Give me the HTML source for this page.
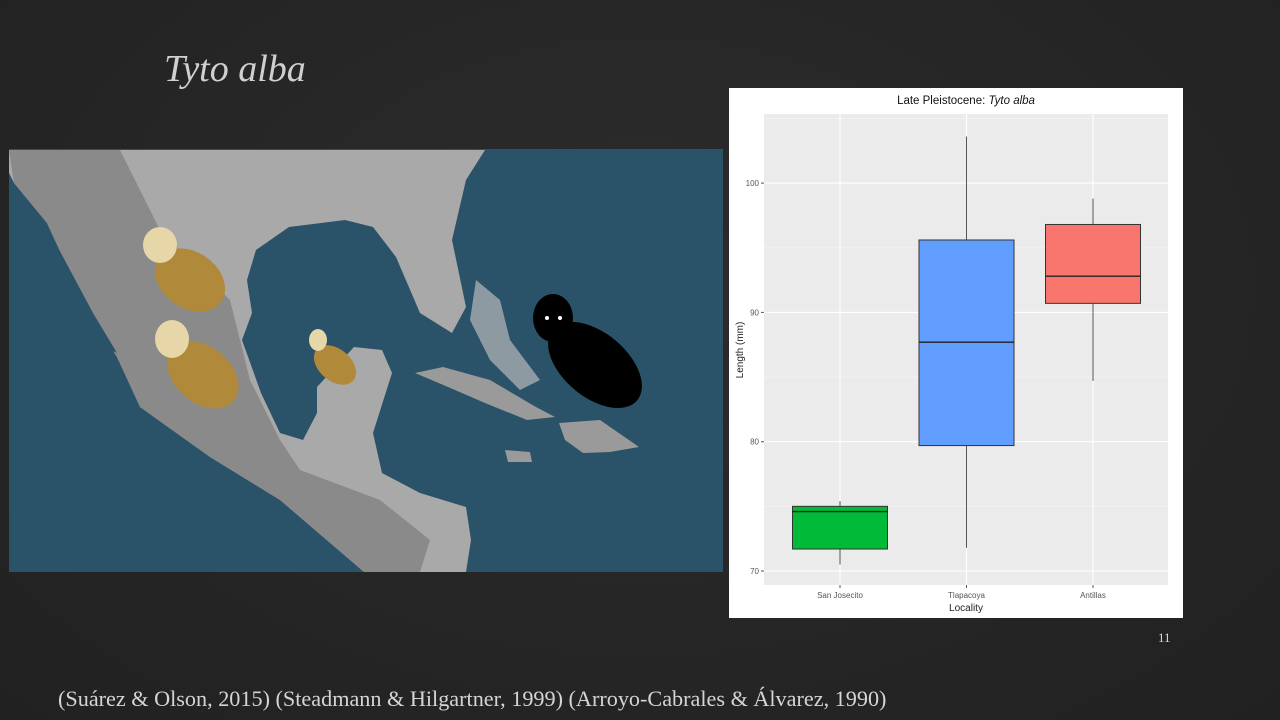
<!DOCTYPE html>
<html><head><meta charset="utf-8"><style>
html,body{margin:0;padding:0;width:1280px;height:720px;overflow:hidden;background:#272727;font-family:"Liberation Sans",sans-serif}
#bg{position:absolute;left:0;top:0;width:1280px;height:720px;background:radial-gradient(ellipse at 50% 40%,#2c2c2c,#212121)}
.t{position:absolute;color:#d9d9d9;font-family:"Liberation Serif",serif}
</style></head><body>
<div id="bg"></div>
<div class="t" style="left:164px;top:47px;font-size:38px;font-style:italic;color:#d0d0d0">Tyto alba</div>
<svg style="position:absolute;left:0;top:0" width="730" height="720">
<rect x="9" y="149" width="714" height="423" fill="#2a5269"/>
<polygon fill="#a9a9a9" points="9,150 485,150 466,180 452,240 466,307 452,333 420,313 396,257 373,227 345,220 289,227 256,250 247,280 252,313 242,340 261,393 280,433 303,440 317,413 317,387 354,347 382,350 392,373 373,433 382,473 420,493 466,507 471,540 466,572 364,572 280,500 210,457 140,407 117,357 84,307 70,273 47,223 14,183 9,173"/>
<polygon fill="#8a8a8a" points="9,150 120,150 160,230 230,300 250,380 280,440 300,470 380,500 430,540 420,572 364,572 280,500 210,457 140,407 117,357 84,307 70,273 47,223 14,183"/>
<polygon fill="#2a5269" points="18,190 47,227 93,313 117,353 89,340 47,273 9,230"/>
<polygon fill="#9a9a9a" points="415,373 443,367 490,380 536,407 555,417 527,420 485,403 448,387"/>
<polygon fill="#9a9a9a" points="559,423 600,420 639,447 610,452 583,453 565,440"/>
<polygon fill="#8e9aa2" points="476,280 500,300 510,340 540,380 520,390 490,360 470,320"/>
<polygon fill="#9a9a9a" points="505,450 530,452 532,462 508,462"/>
<g><ellipse cx="190" cy="280" rx="38" ry="28" fill="#b08a3a" transform="rotate(35 190 280)"/><ellipse cx="160" cy="245" rx="17" ry="18" fill="#e6d6a8"/></g>
<g><ellipse cx="203" cy="375" rx="40" ry="28" fill="#b08a3a" transform="rotate(40 203 375)"/><ellipse cx="172" cy="339" rx="17" ry="19" fill="#e6d6a8"/></g>
<g><ellipse cx="335" cy="365" rx="24" ry="16" fill="#b08a3a" transform="rotate(40 335 365)"/><ellipse cx="318" cy="340" rx="9" ry="11" fill="#e6d6a8"/></g>
<g><ellipse cx="553" cy="318" rx="20" ry="24" fill="#000"/><ellipse cx="595" cy="365" rx="55" ry="32" fill="#000" transform="rotate(40 595 365)"/><circle cx="547" cy="318" r="2" fill="#fff"/><circle cx="560" cy="318" r="2" fill="#fff"/></g>
</svg>
<svg id="chart" style="position:absolute;left:0;top:0" width="1280" height="720"></svg>
<div class="t" style="left:1158px;top:630px;font-size:13px">11</div>
<div class="t" style="left:58px;top:686px;font-size:22.2px;color:#d5d5d5">(Suárez &amp; Olson, 2015) (Steadmann &amp; Hilgartner, 1999) (Arroyo-Cabrales &amp; Álvarez, 1990)</div>
<script>
const categories=["San Josecito","Tlapacoya","Antillas"];
const mins=[70.5,71.8,84.7];
const q1s=[71.7,79.7,90.7];
const medians=[74.6,87.7,92.8];
const q3s=[75.0,95.6,96.8];
const maxs=[75.4,103.6,98.8];
const colors=["#00ba38","#619cff","#f8766d"];
const yTicks=[70,80,90,100];
const yMinor=[75,85,95,105];
const NS="http://www.w3.org/2000/svg";
const svg=document.getElementById('chart');
const P={l:764,r:1168,t:114,b:585};
const y=v=>571-(v-70)*12.93;
const x=i=>840+126.5*i;
function mk(t,a,p){const e=document.createElementNS(NS,t);for(const k in a)e.setAttribute(k,a[k]);(p||svg).appendChild(e);return e;}
const panel=mk('rect',{x:729,y:88,width:454,height:530,fill:'#fff'});


const plot=mk('rect',{x:P.l,y:P.t,width:P.r-P.l,height:P.b-P.t,fill:'#ebebeb'});


yMinor.forEach(v=>{const g=mk('line',{x1:P.l,x2:P.r,y1:y(v),y2:y(v),stroke:'#f5f5f5','stroke-width':0.6});

});
yTicks.forEach(v=>{const g=mk('line',{x1:P.l,x2:P.r,y1:y(v),y2:y(v),stroke:'#fff','stroke-width':1.1});


const tk=mk('line',{x1:P.l-3,x2:P.l,y1:y(v),y2:y(v),stroke:'#555'});


const t=mk('text',{x:P.l-5,y:y(v)+3,'text-anchor':'end','font-size':8,fill:'#555'});t.textContent=v;

});
const bw=95;
categories.forEach((c,i)=>{const cx=x(i);
const vg=mk('line',{x1:cx,x2:cx,y1:P.t,y2:P.b,stroke:'#fff','stroke-width':1.1});


const w=mk('line',{x1:cx,x2:cx,y1:y(maxs[i]),y2:y(mins[i]),stroke:'#555','stroke-width':1});


const b=mk('rect',{x:cx-bw/2,y:y(q3s[i]),width:bw,height:y(q1s[i])-y(q3s[i]),fill:colors[i],stroke:'#333','stroke-width':1});


const m=mk('line',{x1:cx-bw/2,x2:cx+bw/2,y1:y(medians[i]),y2:y(medians[i]),stroke:'#222','stroke-width':1.4});


const tk=mk('line',{x1:cx,x2:cx,y1:P.b,y2:P.b+3,stroke:'#555'});


const t=mk('text',{x:cx,y:P.b+13,'text-anchor':'middle','font-size':8,fill:'#555'});t.textContent=c;

});
const xt=mk('text',{x:966,y:611,'text-anchor':'middle','font-size':10,fill:'#222'});xt.textContent='Locality';


const yt=mk('text',{x:0,y:0,'text-anchor':'middle','font-size':10,fill:'#222',transform:'translate(743 350) rotate(-90)'});yt.textContent='Length (mm)';


const tt=mk('text',{x:966,y:104,'text-anchor':'middle','font-size':11.5,fill:'#111'});


tt.innerHTML='Late Pleistocene: <tspan font-style="italic">Tyto alba</tspan>';
</script>
</body></html>
